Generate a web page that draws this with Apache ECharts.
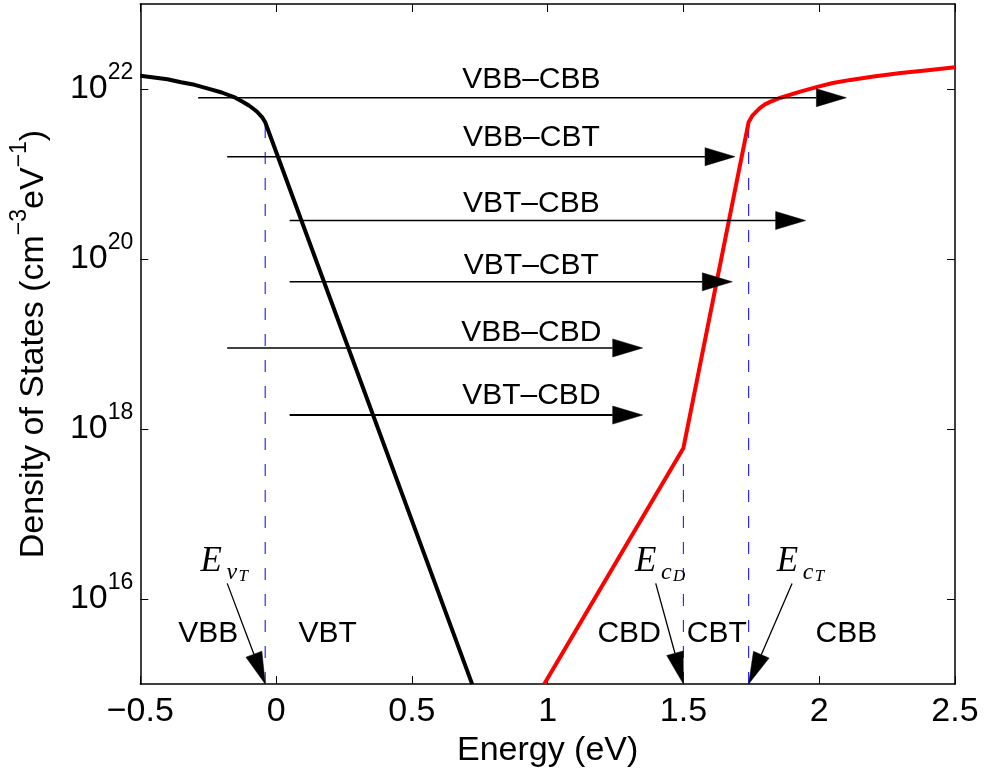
<!DOCTYPE html>
<html>
<head>
<meta charset="utf-8">
<script src="https://cdn.jsdelivr.net/npm/echarts@6/dist/echarts.min.js"></script>
<style>
  html, body { margin: 0; padding: 0; background: #fff; }
  #chart { width: 984px; height: 773px; }
</style>
</head>
<body>
<div id="chart"></div>
<script>
// Valence band density of states (cm^-3 eV^-1) versus energy (eV)
const vbEnergy = [-0.5, -0.45, -0.4, -0.35, -0.3, -0.25, -0.2, -0.15, -0.12, -0.1, -0.085, -0.07, -0.05, -0.04, 0.722];
const vbDos = [1.43e22, 1.365e22, 1.30e22, 1.2e22, 1.12e22, 1.01e22, 9.1e21, 7.9e21, 7.0e21, 6.4e21, 5.9e21, 5.4e21, 4.6e21, 4.07e21, 1e15];

// Conduction band density of states (defect tail, band tail, band)
const cbEnergy = [0.9875, 1.5, 1.74, 1.754, 1.77, 1.785, 1.80, 1.821, 1.858, 1.93, 1.993, 2.05, 2.115, 2.2, 2.3, 2.4, 2.5];
const cbDos = [1e15, 6e17, 4.07e21, 4.87e21, 5.5e21, 6.1e21, 6.6e21, 7.1e21, 7.9e21, 9.3e21, 1.06e22, 1.175e22, 1.28e22, 1.40e22, 1.54e22, 1.66e22, 1.8e22];

// Band-edge markers: E_vT, E_cD, E_cT and the DOS where each dashed line stops
const edgeEnergy = [-0.04, 1.5, 1.74];
const edgeTopDos = [4.07e21, 6e17, 4.07e21];

// Optical transitions between bands
const transNames = ['VBB\u2013CBB', 'VBB\u2013CBT', 'VBT\u2013CBB', 'VBT\u2013CBT', 'VBB\u2013CBD', 'VBT\u2013CBD'];
const transFrom = [-0.287, -0.18, 0.05, 0.05, -0.18, 0.05];
const transTo = [2.1, 1.69, 1.95, 1.68, 1.35, 1.35];
const transDos = [7.9e21, 1.6e21, 2.84e20, 5.4e19, 9.0e18, 1.46e18];
const transLabelEnergy = [0.94, 0.94, 0.94, 0.94, 0.94, 0.94];
const transLabelDos = [1.285e22, 2.65e21, 4.5e20, 8.3e19, 1.36e19, 2.45e18];

// Region names along the bottom
const regionNames = ['VBB', 'VBT', 'CBD', 'CBT', 'CBB'];
const regionEnergy = [-0.25, 0.19, 1.30, 1.623, 2.10];
const regionDos = 3.95e15;

// Edge annotations: symbol, subscript, sub-subscript
const edgeSymbols = [['E', 'v', 'T'], ['E', 'c', 'D'], ['E', 'c', 'T']];
const edgeTextEnergy = [-0.275, 1.325, 1.847];
const edgeTextDos = 2.77e16;
const edgeArrowFrom = [-0.18, 1.398, 1.90];
const edgeArrowDos = 1.53e16;

// Axes
const xMin = -0.5, xMax = 2.5, xStep = 0.5;
const yMinDos = 1e15, yMaxDos = 1e23;
const yTickExponents = [16, 18, 20, 22];

const lg = Math.log10;
const SANS = '"Liberation Sans", Arial, Helvetica, sans-serif';
const SERIF = '"Liberation Serif", "Times New Roman", serif';

function arrowParts(p1, p2, headLen, headHalf, lw) {
  const dx = p2[0] - p1[0], dy = p2[1] - p1[1];
  const d = Math.hypot(dx, dy);
  const ux = dx / d, uy = dy / d;
  const bx = p2[0] - ux * headLen, by = p2[1] - uy * headLen;
  const nx = -uy, ny = ux;
  return [
    { type: 'line', shape: { x1: p1[0], y1: p1[1], x2: bx, y2: by },
      style: { stroke: '#000', lineWidth: lw } },
    { type: 'polygon',
      shape: { points: [[p2[0], p2[1]], [bx + nx * headHalf, by + ny * headHalf], [bx - nx * headHalf, by - ny * headHalf]] },
      style: { fill: '#000', stroke: '#000', lineWidth: 0.5 } }
  ];
}

function textEl(x, y, text, font, align) {
  return {
    type: 'text', x: x, y: y,
    style: { text: text, font: font, fill: '#000',
             textAlign: align || 'center', textVerticalAlign: 'middle',
             align: align || 'center', verticalAlign: 'middle' }
  };
}

const edgeSeries = edgeEnergy.map((e, i) => ({
  type: 'line', silent: true, showSymbol: false, z: 1,
  data: [[e, lg(yMinDos)], [e, lg(edgeTopDos[i])]],
  lineStyle: { color: '#2a2aff', width: 1.2, type: [12, 14] }
}));

const chart = echarts.init(document.getElementById('chart'), null, { renderer: 'canvas' });

chart.setOption({
  animation: false,
  backgroundColor: '#fff',
  grid: { left: 139, right: 29, top: 4, bottom: 87, containLabel: false },
  xAxis: [{
    type: 'value', min: xMin, max: xMax, interval: xStep, position: 'bottom',
    name: 'Energy (eV)', nameLocation: 'middle', nameGap: 41,
    nameTextStyle: { fontSize: 34, fontFamily: SANS, color: '#000', lineHeight: 34 },
    axisLine: { onZero: false, lineStyle: { color: '#000', width: 1.5 } },
    axisTick: { inside: true, length: 8, lineStyle: { color: '#000', width: 1 } },
    axisLabel: { fontSize: 34, fontFamily: SANS, color: '#000', margin: 11, lineHeight: 34,
                 formatter: v => String(v).replace('-', '\u2212') },
    splitLine: { show: false }
  }, {
    type: 'value', min: xMin, max: xMax, interval: xStep, position: 'top',
    axisLine: { onZero: false, lineStyle: { color: '#000', width: 1.5 } },
    axisTick: { inside: true, length: 8, lineStyle: { color: '#000', width: 1 } },
    axisLabel: { show: false }, splitLine: { show: false }
  }],
  yAxis: [{
    type: 'value', min: lg(yMinDos), max: lg(yMaxDos), position: 'left',
    name: 'Density of States (cm{s|\u22123}eV{s|\u22121})',
    nameLocation: 'middle', nameRotate: 90, nameGap: 70,
    nameTextStyle: { fontSize: 34, fontFamily: SANS, color: '#000', lineHeight: 34,
                     rich: { s: { fontSize: 23, fontFamily: SANS, color: '#000', lineHeight: 23, padding: [0, 0, 28, 0] } } },
    axisLine: { onZero: false, lineStyle: { color: '#000', width: 1.5 } },
    axisTick: { inside: true, length: 8, customValues: yTickExponents, lineStyle: { color: '#000', width: 1 } },
    axisLabel: {
      margin: 7, customValues: yTickExponents,
      formatter: v => '{b|10}{s|' + v + '}',
      rich: {
        b: { fontSize: 34, fontFamily: SANS, color: '#000', lineHeight: 34 },
        s: { fontSize: 23, fontFamily: SANS, color: '#000', lineHeight: 23, padding: [0, 0, 32, 0] }
      }
    },
    splitLine: { show: false }
  }, {
    type: 'value', min: lg(yMinDos), max: lg(yMaxDos), position: 'right',
    axisLine: { onZero: false, lineStyle: { color: '#000', width: 1.5 } },
    axisTick: { inside: true, length: 8, customValues: yTickExponents, lineStyle: { color: '#000', width: 1 } },
    axisLabel: { show: false }, splitLine: { show: false }
  }],
  series: [
    ...edgeSeries,
    {
      type: 'line', name: 'VB', showSymbol: false, silent: true, z: 3,
      data: vbEnergy.map((e, i) => [e, lg(vbDos[i])]),
      lineStyle: { color: '#000', width: 4, join: 'round' }
    },
    {
      type: 'line', name: 'CB', showSymbol: false, silent: true, z: 3,
      data: cbEnergy.map((e, i) => [e, lg(cbDos[i])]),
      lineStyle: { color: '#ff0000', width: 4, join: 'round' }
    },
    {
      // transition arrows with their names
      type: 'custom', silent: true, z: 4, clip: false,
      data: transNames.map((n, i) => [transFrom[i], transTo[i], lg(transDos[i]), transLabelEnergy[i], lg(transLabelDos[i])]),
      renderItem: function (params, api) {
        const y = api.value(2);
        const p1 = api.coord([api.value(0), y]);
        const p2 = api.coord([api.value(1), y]);
        const lp = api.coord([api.value(3), api.value(4)]);
        const lw = params.dataIndex === 5 ? 2 : 1.5;
        return {
          type: 'group',
          children: arrowParts(p1, p2, 30, 9, lw).concat([
            textEl(lp[0], lp[1], transNames[params.dataIndex], '30px ' + SANS)
          ])
        };
      }
    },
    {
      // region names
      type: 'custom', silent: true, z: 4, clip: false,
      data: regionNames.map((n, i) => [regionEnergy[i], lg(regionDos)]),
      renderItem: function (params, api) {
        const p = api.coord([api.value(0), api.value(1)]);
        return textEl(p[0], p[1], regionNames[params.dataIndex], '30px ' + SANS);
      }
    },
    {
      // band-edge symbols with arrows pointing at each edge
      type: 'custom', silent: true, z: 4, clip: false,
      data: edgeEnergy.map((e, i) => [edgeTextEnergy[i], lg(edgeTextDos), edgeArrowFrom[i], lg(edgeArrowDos), e, lg(yMinDos)]),
      renderItem: function (params, api) {
        const t = api.coord([api.value(0), api.value(1)]);
        const a1 = api.coord([api.value(2), api.value(3)]);
        const a2 = api.coord([api.value(4), api.value(5)]);
        const sym = edgeSymbols[params.dataIndex];
        return {
          type: 'group',
          children: arrowParts(a1, a2, 32, 8.5, 1.3).concat([
            textEl(t[0] - 1, t[1], sym[0], 'italic 35px ' + SERIF, 'left'),
            textEl(t[0] + 25, t[1] + 11, sym[1], 'italic 24px ' + SERIF, 'left'),
            textEl(t[0] + 37, t[1] + 15, sym[2], 'italic 17px ' + SERIF, 'left')
          ])
        };
      }
    }
  ]
});
</script>
</body>
</html>
